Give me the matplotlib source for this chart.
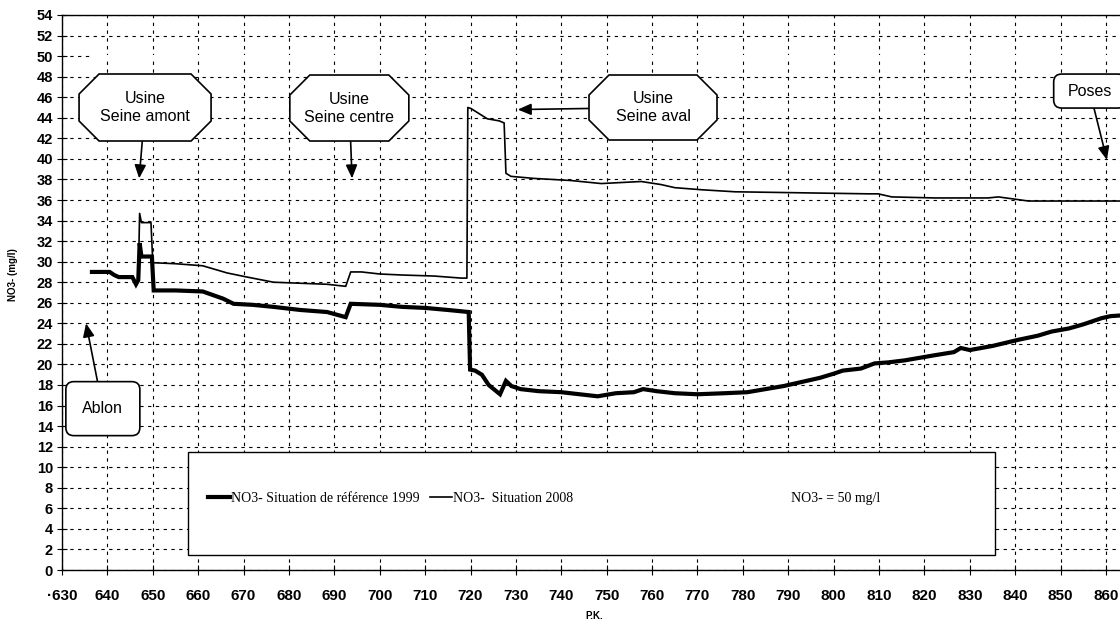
import matplotlib
matplotlib.use("Agg")
import matplotlib.pyplot as plt
from matplotlib.path import Path
from matplotlib.patches import Rectangle, BoxStyle
from matplotlib.lines import Line2D
from matplotlib.legend import Legend

# NO3- le long de la Seine (P.K.)
pk_1999 = [636.6, 640.5, 641.5, 642.5, 645.5, 646.3, 646.8, 647.1, 647.5, 649.8, 650.2, 655, 661,
           665.5, 667.8, 672, 676.6, 682.5, 688.4, 692.5, 693.6, 700, 705, 710, 715, 719.6, 719.9,
           721, 722.5, 724, 726.5, 727.8, 729, 731, 735, 740, 744, 748, 752, 756, 758, 761, 765,
           770, 776, 781, 785, 789, 793, 797, 800, 802, 806, 809, 812, 815.7, 822.3, 826.5, 828,
           830, 835, 840.7, 845, 848, 851.8, 855, 859, 861, 864.4]
no3_1999 = [29.0, 29.0, 28.7, 28.5, 28.5, 27.8, 28.2, 31.8, 30.5, 30.5, 27.2, 27.2, 27.1,
            26.4, 25.9, 25.8, 25.6, 25.3, 25.1, 24.6, 25.9, 25.8, 25.6, 25.5, 25.3, 25.1, 19.5,
            19.4, 19.0, 18.0, 17.1, 18.4, 17.9, 17.6, 17.4, 17.3, 17.1, 16.9, 17.2, 17.3, 17.6,
            17.4, 17.2, 17.1, 17.2, 17.3, 17.6, 17.9, 18.3, 18.7, 19.1, 19.4, 19.6, 20.1, 20.2,
            20.4, 20.9, 21.2, 21.6, 21.4, 21.8, 22.4, 22.8, 23.2, 23.5, 23.9, 24.5, 24.7, 24.8]

pk_2008 = [636.6, 640.5, 641.5, 642.5, 645.5, 646.3, 646.8, 647.1, 647.5, 649.6, 650.0, 655, 661,
           666.4, 670.8, 676.6, 682.5, 688.4, 692.5, 693.6, 696, 700, 705, 712, 718, 719.2, 719.4,
           720.1, 723.7, 726.3, 727.4, 727.8, 728.9, 734, 742, 748.8, 757.6, 762, 765, 770.8,
           778.2, 792.9, 807.6, 809.8, 812.8, 822.3, 834, 836.3, 842.9, 864.4]
no3_2008 = [29.1, 29.0, 28.7, 28.5, 28.5, 27.8, 28.2, 34.7, 33.8, 33.8, 29.9, 29.8, 29.6,
            28.9, 28.5, 28.0, 27.9, 27.8, 27.6, 29.0, 29.0, 28.8, 28.7, 28.6, 28.4, 28.4, 45.0,
            44.9, 43.9, 43.7, 43.5, 38.6, 38.3, 38.1, 37.9, 37.6, 37.8, 37.5, 37.2, 37.0,
            36.8, 36.7, 36.6, 36.6, 36.3, 36.2, 36.2, 36.3, 35.9, 35.9]

pk_seuil = [636.6, 864.4]
no3_seuil = [50, 50]

labels = ["NO3- Situation de référence 1999", "NO3-  Situation 2008", "NO3- = 50 mg/l"]
xticks = list(range(630, 861, 10))
xticklabels = ["·630"] + [str(v) for v in xticks[1:]]

# callouts: texte, centre du texte, pointe de la flèche
callouts = [
    ("Usine\nSeine amont", (648.3, 45.0), (647.0, 38.1), "oct", (132, 67)),
    ("Usine\nSeine centre", (693.3, 44.95), (693.9, 38.1), "oct", (119, 66)),
    ("Usine\nSeine aval", (760.2, 45.0), (730.4, 44.8), "oct", (128, 65)),
    ("Poses", (856.4, 46.6), (860.2, 39.9), "round", (72, 34)),
    ("Ablon", (639.0, 15.7), (635.3, 24.0), "round", (74, 54)),
]


def octagon(w, h, c=20):
    def box(x0, y0, width, height, mutation_size):
        cx, cy = x0 + width / 2, y0 + height / 2
        l, r, b, t = cx - w / 2, cx + w / 2, cy - h / 2, cy + h / 2
        v = [(l + c, b), (r - c, b), (r, b + c), (r, t - c), (r - c, t),
             (l + c, t), (l, t - c), (l, b + c), (l + c, b)]
        return Path(v, closed=True)
    return box


def rounded(w, h):
    def box(x0, y0, width, height, mutation_size):
        cx, cy = x0 + width / 2, y0 + height / 2
        return BoxStyle.Round(pad=0, rounding_size=0.5)(cx - w / 2, cy - h / 2, w, h, mutation_size)
    return box


fig = plt.figure(figsize=(11.2, 6.26), dpi=100)
ax = fig.add_axes([62 / 1120, 1 - 570 / 626, 1064 / 1120, 555 / 626])
ax.set_xlim(630, 864.4)
ax.set_ylim(0, 54)

ax.plot(pk_seuil, no3_seuil, color="white", lw=2.2, zorder=2)
ax.plot(pk_1999, no3_1999, color="black", lw=3.0, zorder=3, solid_joinstyle="miter")
ax.plot(pk_2008, no3_2008, color="black", lw=1.2, zorder=3)

ax.set_xticks(xticks)
ax.set_xticklabels(xticklabels)
ax.set_yticks(range(0, 55, 2))
for lab in ax.get_xticklabels():
    lab.set_fontfamily("Liberation Sans")
    lab.set_fontweight("bold")
    lab.set_fontsize(11)
for lab in ax.get_yticklabels():
    lab.set_fontfamily("Liberation Sans")
    lab.set_fontweight("bold")
    lab.set_fontsize(10.5)
ax.tick_params(axis="x", direction="inout", length=7, width=0.8, pad=10)
ax.tick_params(axis="y", direction="inout", length=7, width=0.8, pad=3)
ax.set_axisbelow(True)
ax.grid(True, color="black", lw=0.8, ls=(0, (3, 4)))
ax.spines["right"].set_visible(False)
for s in ("left", "bottom", "top"):
    ax.spines[s].set_linewidth(1.0)

ax.set_xlabel("P.K.", fontfamily="Liberation Sans", fontweight="bold", fontsize=7, labelpad=6)
fig.text(13 / 1120, 1 - 275 / 626, "NO3- (mg/l)", rotation=90, ha="center", va="center",
         fontfamily="Liberation Sans", fontweight="bold", fontsize=7)

for txt, pos, tip, kind, (w, h) in callouts:
    style = octagon(w, h) if kind == "oct" else rounded(w, h)
    ax.annotate(txt, xy=tip, xytext=pos, ha="center", va="center", fontsize=11.5,
                fontfamily="Liberation Sans", linespacing=1.25, zorder=6,
                bbox=dict(boxstyle=style, fc="white", ec="black", lw=1.2),
                arrowprops=dict(arrowstyle="-|>,head_length=0.7,head_width=0.3", color="black",
                                lw=1.2, shrinkA=0, shrinkB=0))

# cadre de légende
ax.add_patch(Rectangle((657.8, 1.46), 177.7, 10.0, fc="white", ec="black", lw=1.0, zorder=4))
handles = [Line2D([], [], color="black", lw=3.0),
           Line2D([], [], color="black", lw=1.2),
           Line2D([], [], color="white", lw=1.2)]
for hnd, lab, px in zip(handles, labels, [208, 430, 768]):
    leg = Legend(ax, [hnd], [lab], loc="center left", bbox_to_anchor=((px - 62) / 1064, 7.0 / 54),
                 frameon=False, borderpad=0, borderaxespad=0, handlelength=1.6, handletextpad=0.05,
                 prop={"family": "Liberation Serif", "size": 10})
    leg.set_zorder(5)
    ax.add_artist(leg)

fig.savefig("out.png", dpi=100)
